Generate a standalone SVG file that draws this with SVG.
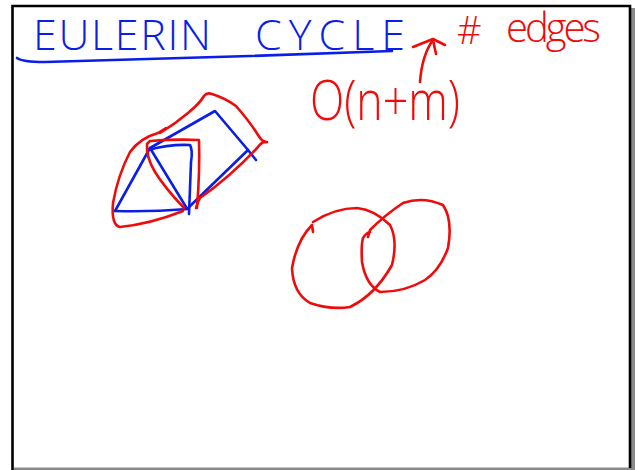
<svg xmlns="http://www.w3.org/2000/svg" width="639" height="470" viewBox="0 0 639 470">
<style>
.blue{fill:none;stroke:#0a1ee6;stroke-width:2.6;stroke-linecap:round;stroke-linejoin:round}
.red{fill:none;stroke:#f00a0a;stroke-width:2.6;stroke-linecap:round;stroke-linejoin:round}
.hw{font-family:"Open Sans","Liberation Sans",sans-serif;font-weight:300}
</style>
<rect x="0" y="0" width="639" height="470" fill="#ffffff"/>
<!-- frame shadow -->
<rect x="631" y="8" width="4" height="462" fill="#8a8a8a"/>
<rect x="14" y="467.5" width="621" height="2.5" fill="#8a8a8a"/>
<!-- frame -->
<path d="M12.5,470 L12.5,6 L630,6 L630,468" fill="none" stroke="#000" stroke-width="2.6"/>

<g id="title">
<text class="hw" x="33" y="50" font-size="43" fill="#0a1ee6" textLength="178" lengthAdjust="spacing">EULERIN</text>
<text class="hw" x="255" y="50" font-size="43" fill="#0a1ee6" textLength="150" lengthAdjust="spacing">CYCLE</text>
<path class="blue" d="M17,58 Q22,62 45,62 L250,56 L392,51"/>
</g>

<g id="edges-note">
<text class="hw" x="457" y="44" font-size="38" fill="#f00a0a">#</text>
<text class="hw" x="506" y="42" font-size="40" fill="#f00a0a" textLength="95" lengthAdjust="spacing">edges</text>
<path class="red" d="M420,82 Q422,55 433,40"/>
<path class="red" d="M413,47 L433,39 L445,45"/>
<path class="red" d="M433,40 L436,54"/>
</g>

<g id="complexity">
<text class="hw" x="310" y="120" font-size="55" fill="#f00a0a" textLength="150" lengthAdjust="spacingAndGlyphs">O(n+m)</text>
</g>

<g id="graph-sketch">
<path class="blue" d="M115,211 L150,148 L215,111 L248,150 L256,160"/>
<path class="blue" d="M115,211 Q150,212 188,209"/>
<path class="blue" d="M248,150 L188,208"/>
<path class="blue" d="M148,150 Q170,144 190,145 Q193,150 191,162 L189,214"/>
<path class="blue" d="M150,148 L186,207"/>
<path class="red" d="M166,128 L158,133 Q140,138 130,152 Q118,175 113,203 Q111,225 120,227 Q150,224 183,211"/>
<path class="red" d="M160,133 Q175,124 188,113 Q200,103 204,96 Q207,92 212,94 Q225,98 236,106 Q250,122 258,135 Q263,143 267,142 Q262,141 258,147 Q230,177 200,198 Q197,203 196,208"/>
<path class="red" d="M184,208 Q165,188 155,172 Q146,157 147,144 L150,141 Q175,139 199,140 Q200,170 197,208"/>
</g>

<g id="circles">
<path class="red" d="M313,232 L312,225 Q297,240 292,268 Q293,293 310,303 Q330,310 350,307 Q375,295 392,265 Q398,240 390,225 Q375,210 357,208 Q335,208 313,222"/>
<path class="red" d="M368,237 L370,230 Q385,215 403,203 Q423,196 443,205 Q453,220 448,248 Q440,270 425,280 Q405,292 380,292 Q366,285 362,262 Q361,245 363,238 Q366,233 370,232"/>
</g>
</svg>
